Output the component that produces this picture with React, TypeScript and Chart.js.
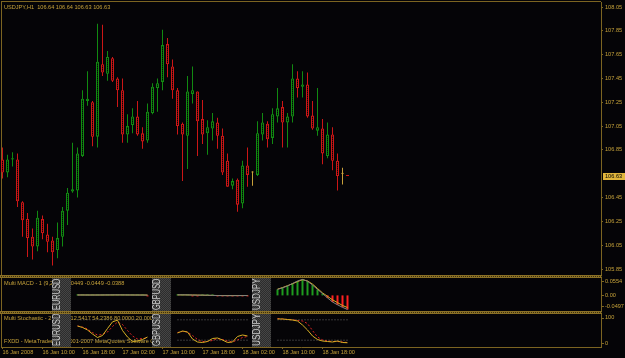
import React, { useEffect, useRef } from 'react';
import { Chart, registerables } from 'chart.js';

Chart.register(...registerables);

// ---------------- colours & fonts ----------------
const BG = '#050407';
const FRAME = '#7c6421';
const TEXT = '#c6a23a';
const GREEN = '#118a11';
const RED = '#cc1616';
const DOJI = '#c8a03a';
const HIST_UP = '#1f9b1f';
const HIST_DOWN = '#ff2020';
const SIGNAL_GOLD = '#d8b024';
const MAIN_GRAY = '#808080';
const STOCH_RED = '#e02424';
const LEVEL_GRAY = '#6a6a6a';
const FONT = '"Liberation Sans", Arial, sans-serif';
const FS = 5.6;

// ---------------- texts ----------------
const symbolTitle = 'USDJPY,H1';
const lastBarText = '106.64 106.64 106.63 106.63';
const macdTitle = 'Multi MACD - 1 (9,26,3) -0.0449 -0.0449 -0.0388';
const stochTitle = 'Multi Stochastic - 2 (5,3,3) 12.5417 54.2386 80.0000 20.0000';
const copyrightText = 'FXDD - MetaTrader 4, \u00a9 2001-2007 MetaQuotes Software Corp.';

// ---------------- price data (H1 candles) ----------------
const candleOpen = [
  106.77, 106.66, 106.77, 106.77, 106.41, 106.27, 106.12, 106.04, 106.27, 106.14,
  106.09, 106.01, 106.12, 106.34, 106.50, 106.51, 106.80, 107.26, 107.25, 106.96,
  107.57, 107.49, 107.62, 107.45, 107.35, 106.98, 107.06, 107.13, 106.99, 106.93,
  107.16, 107.37, 107.42, 107.74, 107.55, 107.35, 107.07, 106.97, 107.32, 107.34,
  107.11, 106.99, 107.03, 107.08, 106.97, 106.76, 106.55, 106.60, 106.40, 106.72,
  106.66, 106.64, 106.98, 107.07, 106.95, 107.13, 107.21, 107.08, 107.13, 107.45,
  107.38, 107.40, 107.14, 107.01, 107.03, 106.80, 106.98, 106.76, 106.65, 106.64,
];
const candleHigh = [
  106.87, 106.81, 106.83, 106.82, 106.42, 106.32, 106.19, 106.34, 106.30, 106.23,
  106.12, 106.24, 106.37, 106.53, 106.91, 106.87, 107.35, 107.51, 107.26, 107.91,
  107.90, 107.68, 107.63, 107.46, 107.45, 107.15, 107.20, 107.26, 107.04, 107.24,
  107.41, 107.45, 107.86, 107.79, 107.61, 107.37, 107.08, 107.47, 107.55, 107.34,
  107.27, 107.10, 107.16, 107.12, 107.03, 106.82, 106.61, 106.61, 106.76, 106.87,
  106.67, 107.09, 107.16, 107.09, 107.20, 107.37, 107.26, 107.16, 107.57, 107.51,
  107.51, 107.50, 107.26, 107.37, 107.11, 107.08, 107.04, 106.82, 106.70, 106.64,
];
const candleLow = [
  106.61, 106.62, 106.71, 106.37, 106.12, 105.95, 105.93, 106.00, 106.10, 105.99,
  105.88, 105.94, 106.04, 106.22, 106.49, 106.45, 106.79, 107.22, 106.88, 106.87,
  107.47, 107.43, 107.42, 107.21, 106.91, 106.91, 106.99, 106.97, 106.86, 106.91,
  107.15, 107.17, 107.35, 107.46, 107.28, 106.98, 106.59, 106.69, 107.24, 106.80,
  106.90, 106.81, 106.93, 106.86, 106.64, 106.54, 106.52, 106.33, 106.36, 106.54,
  106.55, 106.63, 106.93, 106.87, 106.90, 107.08, 106.87, 106.87, 107.08, 107.29,
  107.29, 107.12, 107.02, 106.97, 106.73, 106.78, 106.68, 106.51, 106.56, 106.63,
];
const candleClose = [
  106.66, 106.77, 106.78, 106.42, 106.26, 106.11, 106.04, 106.28, 106.15, 106.08,
  105.99, 106.11, 106.34, 106.49, 106.52, 106.82, 107.28, 107.28, 106.96, 107.59,
  107.50, 107.63, 107.43, 107.35, 106.98, 107.05, 107.13, 106.98, 106.92, 107.17,
  107.38, 107.41, 107.73, 107.57, 107.35, 107.05, 106.98, 107.34, 107.35, 107.09,
  106.98, 107.04, 107.09, 106.97, 106.66, 106.54, 106.59, 106.39, 106.72, 106.64,
  106.66, 106.99, 107.08, 106.94, 107.15, 107.20, 107.08, 107.13, 107.45, 107.37,
  107.40, 107.13, 107.03, 107.04, 106.82, 106.98, 106.76, 106.63, 106.65, 106.63,
];

// ---------------- axes ----------------
const priceTicks = [108.05, 107.85, 107.65, 107.45, 107.25, 107.05, 106.85, 106.45, 106.25, 106.05, 105.85];
const timeTickBars = [0, 8, 16, 24, 32, 40, 48, 56, 64];
const timeTickLabels = [
  '16 Jan 2008', '16 Jan 10:00', '16 Jan 18:00', '17 Jan 02:00', '17 Jan 10:00',
  '17 Jan 18:00', '18 Jan 02:00', '18 Jan 10:00', '18 Jan 18:00',
];
const macdAxisValues = [0.0554, 0, -0.0497];
const macdAxisLabels = ['0.0554', '0.00', '-0.0497'];
const stochAxisValues = [100, 0];
const stochAxisLabels = ['100', '0'];
const stochLevels = [80, 20];

// ---------------- multi-symbol indicator sections ----------------
const sectionSymbols = ['EURUSD', 'GBPUSD', 'USDJPY'];
const sectionStartBar = [15, 35, 55];

const macdHistEURUSD = [0.0004, 0.0003, 0.0002, 0.0002, 0.0003, 0.0004, 0.0005, 0.0006, 0.0005, 0.0003, 0.0002, 0.0001, 0.0001, 0.0001, -0.0003];
const macdMainEURUSD = [0.0013, 0.0013, 0.0012, 0.0012, 0.0013, 0.0014, 0.0015, 0.0016, 0.0016, 0.0015, 0.0014, 0.0013, 0.0012, 0.0011, 0.0009];
const macdSignalEURUSD = [0.0014, 0.0014, 0.0013, 0.0013, 0.0013, 0.0013, 0.0014, 0.0014, 0.0015, 0.0015, 0.0014, 0.0013, 0.0013, 0.0012, 0.0012];

const macdHistGBPUSD = [0.0003, 0.0002, 0.0001, -0.0002, -0.0004, 0.0003, 0.0004, 0.0002, -0.0003, -0.0004, -0.0005, -0.0004, -0.0003, -0.0002, -0.0001];
const macdMainGBPUSD = [0.0019, 0.0018, 0.0016, 0.0011, 0.0007, 0.0009, 0.0006, 0.0001, -0.0006, -0.0008, -0.0009, -0.0009, -0.0007, -0.0006, -0.0004];
const macdSignalGBPUSD = [0.0016, 0.0016, 0.0015, 0.0013, 0.0011, 0.0006, 0.0002, -0.0001, -0.0003, -0.0004, -0.0004, -0.0005, -0.0004, -0.0004, -0.0003];

const macdHistUSDJPY = [0.019, 0.024, 0.030, 0.038, 0.046, 0.051, 0.045, 0.033, 0.019, 0.006, -0.008, -0.021, -0.030, -0.038, -0.0449];
const macdMainUSDJPY = [0.019, 0.024, 0.030, 0.038, 0.046, 0.051, 0.045, 0.033, 0.019, 0.006, -0.008, -0.021, -0.030, -0.038, -0.0449];
const macdSignalUSDJPY = [0.020, 0.025, 0.031, 0.037, 0.044, 0.050, 0.046, 0.036, 0.022, 0.008, -0.003, -0.014, -0.023, -0.032, -0.0388];

const stochMainEURUSD = [61.8, 57.4, 50, 38.2, 27.9, 33.8, 54.4, 74, 79, 48.5, 29.4, 16.2, 17.6, 22.1, 29.4];
const stochSignalEURUSD = [61.8, 58.8, 52.9, 42.6, 35.3, 36.8, 44.1, 60.3, 73.5, 66.2, 48.5, 32.4, 23.5, 25, 26.5];
const stochMainGBPUSD = [41.2, 47.1, 44.1, 23.5, 14.7, 13.2, 16.2, 25, 26.5, 20.6, 13.2, 14.7, 30.9, 35.3, 32.4];
const stochSignalGBPUSD = [42.6, 45.6, 44.1, 33.8, 22.1, 16.2, 16.2, 19.1, 25, 22.1, 17.6, 14.7, 20.6, 27.9, 30.9];
const stochMainUSDJPY = [82.4, 82.4, 80.9, 79.4, 76.5, 64.7, 50, 32.4, 22.1, 17.6, 16.2, 14.7, 17.6, 13.2, 12.5417];
const stochSignalUSDJPY = [83.8, 82.4, 80.9, 80.1, 77.9, 76.5, 69.1, 48.5, 29.4, 20.6, 17.6, 16.2, 16.2, 14.7, 13.2];

const macdHist = [macdHistEURUSD, macdHistGBPUSD, macdHistUSDJPY];
const macdMain = [macdMainEURUSD, macdMainGBPUSD, macdMainUSDJPY];
const macdSignal = [macdSignalEURUSD, macdSignalGBPUSD, macdSignalUSDJPY];
const stochMain = [stochMainEURUSD, stochMainGBPUSD, stochMainUSDJPY];
const stochSignal = [stochSignalEURUSD, stochSignalGBPUSD, stochSignalUSDJPY];

// ---------------- scale ranges (window extents) ----------------
const X_MIN = -0.3;
const X_MAX = 119.7;
const PRICE_MAX = 108.092;
const PRICE_MIN = 105.783;
const MACD_MAX = 0.0586;
const MACD_MIN = -0.0529;
const STOCH_MAX = 102.94;
const STOCH_MIN = 0;

function makeChecker(fg: string, bg: string) {
  const c = document.createElement('canvas');
  c.width = 2;
  c.height = 2;
  const g = c.getContext('2d')!;
  g.fillStyle = bg;
  g.fillRect(0, 0, 2, 2);
  g.fillStyle = fg;
  g.fillRect(0, 0, 1, 1);
  g.fillRect(1, 1, 1, 1);
  return g.createPattern(c, 'repeat')!;
}

export default function App() {
  const ref = useRef<HTMLCanvasElement>(null);

  useEffect(() => {
    document.body.style.margin = '0';
    document.body.style.background = BG;
    const canvas = ref.current!;

    const redFill = makeChecker('#5a0c0c', BG);
    const greenFill = makeChecker('#073a07', BG);
    const dojiFill = makeChecker('#5a4616', BG);
    const boxFill = makeChecker('#454545', '#2c2c2c');
    const sepFill = makeChecker('#8a7026', '#3a2e0e');

    const kind = candleOpen.map((o, i) => (candleClose[i] > o ? 1 : candleClose[i] < o ? -1 : 0));
    const edge = kind.map((k) => (k > 0 ? GREEN : k < 0 ? RED : DOJI));
    const fill = kind.map((k) => (k > 0 ? greenFill : k < 0 ? redFill : dojiFill));

    const datasets: any[] = [
      {
        type: 'bar',
        label: 'bodies',
        data: candleOpen.map((o, i) => ({ x: i, y: [o, candleClose[i]] })),
        xAxisID: 'x',
        yAxisID: 'y',
        backgroundColor: fill,
        borderColor: edge,
        borderWidth: 1,
        borderSkipped: false,
        barThickness: 3,
        minBarLength: 1,
        inflateAmount: 0,
        grouped: false,
        order: 1,
      },
      {
        type: 'bar',
        label: 'wicks',
        data: candleLow.map((l, i) => ({ x: i, y: [l, candleHigh[i]] })),
        xAxisID: 'x',
        yAxisID: 'y',
        backgroundColor: edge,
        borderWidth: 0,
        barThickness: 1,
        inflateAmount: 0,
        grouped: false,
        order: 2,
      },
    ];

    sectionStartBar.forEach((start, s) => {
      const pts = (arr: number[]) => arr.map((v, k) => ({ x: start + k, y: v }));
      datasets.push({
        type: 'bar',
        label: sectionSymbols[s] + ' hist',
        data: pts(macdHist[s]),
        xAxisID: 'x',
        yAxisID: 'yM',
        backgroundColor: macdHist[s].map((v) => (v >= 0 ? HIST_UP : HIST_DOWN)),
        borderWidth: 0,
        barThickness: 2,
        minBarLength: 1,
        inflateAmount: 0,
        grouped: false,
        order: 3,
      });
      const line = (arr: number[], axis: string, color: string, dash: number[] = []) => ({
        type: 'line',
        data: pts(arr),
        xAxisID: 'x',
        yAxisID: axis,
        borderColor: color,
        borderWidth: 1,
        borderDash: dash,
        pointRadius: 0,
        tension: 0,
        fill: false,
        order: 0,
      });
      datasets.push(line(macdMain[s], 'yM', MAIN_GRAY));
      datasets.push(line(macdSignal[s], 'yM', SIGNAL_GOLD));
      stochLevels.forEach((lv) => {
        datasets.push({
          type: 'line',
          data: [
            { x: start, y: lv },
            { x: start + 14, y: lv },
          ],
          xAxisID: 'x',
          yAxisID: 'yS',
          borderColor: LEVEL_GRAY,
          borderWidth: 1,
          borderDash: [1, 2],
          pointRadius: 0,
          fill: false,
          order: 5,
        });
      });
      datasets.push(line(stochMain[s], 'yS', SIGNAL_GOLD));
      datasets.push(line(stochSignal[s], 'yS', STOCH_RED, [2, 2]));
    });

    const decor = {
      id: 'mtDecor',
      beforeDatasetsDraw(chart: any) {
        const { ctx, scales, chartArea } = chart;
        const x = scales.x, y = scales.y, yM = scales.yM, yS = scales.yS;
        ctx.save();
        ctx.fillStyle = FRAME;
        ctx.fillRect(1, 1, chartArea.right - 1, 1);
        ctx.fillRect(1, 1, 1, chartArea.bottom - 1);

        ctx.font = `${FS}px ${FONT}`;
        ctx.fillStyle = TEXT;
        ctx.textBaseline = 'middle';
        ctx.textAlign = 'left';
        const mTop = yM.getPixelForValue(macdAxisValues[0]);
        const mBot = yM.getPixelForValue(macdAxisValues[2]);
        const sTop = yS.getPixelForValue(100);
        const sBot = yS.getPixelForValue(0);
        ctx.fillText(`${symbolTitle}  ${lastBarText}`, 4, y.top + 5);
        ctx.fillText(macdTitle, 4, mTop + 5);
        ctx.fillText(stochTitle, 4, sTop + 5.5);
        ctx.fillText(copyrightText, 4, sBot - 6);

        sectionStartBar.forEach((start, s) => {
          const left = Math.round(x.getPixelForValue(start - 5.1));
          const right = Math.round(x.getPixelForValue(start - 1.3));
          [[mTop, mBot], [sTop, sBot]].forEach(([t, b]) => {
            const top = Math.round(t);
            const bot = Math.round(b);
            ctx.fillStyle = boxFill;
            ctx.fillRect(left, top, right - left, bot - top);
            ctx.save();
            ctx.translate(left + 7.7, bot - 1);
            ctx.rotate(-Math.PI / 2);
            ctx.font = `10px ${FONT}`;
            const w = ctx.measureText(sectionSymbols[s]).width;
            ctx.scale((bot - top - 1.5) / w, 1);
            ctx.fillStyle = '#c8c8c8';
            ctx.textBaseline = 'alphabetic';
            ctx.textAlign = 'left';
            ctx.fillText(sectionSymbols[s], 0, 0);
            ctx.restore();
          });
        });
        ctx.restore();
      },
      afterDraw(chart: any) {
        const { ctx, scales, chartArea } = chart;
        const y = scales.y, yM = scales.yM, yS = scales.yS;
        ctx.save();
        // pane separators
        [Math.round(yM.top) - 2, Math.round(yS.top) - 1].forEach((t) => {
          ctx.fillStyle = sepFill;
          ctx.fillRect(0, t, chartArea.right + 1, 3);
          ctx.fillStyle = '#8a7026';
          ctx.fillRect(0, t, chartArea.right + 1, 1);
          ctx.fillRect(0, t + 2, chartArea.right + 1, 1);
        });
        // indicator axis labels
        ctx.font = `${FS}px ${FONT}`;
        ctx.textBaseline = 'middle';
        ctx.textAlign = 'left';
        const axX = chartArea.right;
        const drawLabels = (scale: any, vals: number[], labs: string[], topPad: number, botPad: number) => {
          const t = scale.getPixelForValue(vals[0]);
          const b = scale.getPixelForValue(vals[vals.length - 1]);
          vals.forEach((v, i) => {
            let py = scale.getPixelForValue(v);
            py = Math.min(Math.max(py, t + topPad), b - botPad);
            ctx.fillStyle = FRAME;
            ctx.fillRect(axX + 1, Math.round(py), 2, 1);
            ctx.fillStyle = TEXT;
            ctx.fillText(labs[i], axX + 4, py);
          });
        };
        drawLabels(yM, macdAxisValues, macdAxisLabels, 3.3, 4.7);
        drawLabels(yS, stochAxisValues, stochAxisLabels, 4.7, 4);
        // current price marker
        const last = candleClose[candleClose.length - 1];
        const py = y.getPixelForValue(last);
        ctx.fillStyle = '#e2b63c';
        ctx.fillRect(axX + 2, Math.round(py) - 3, 23, 7);
        ctx.fillStyle = '#000000';
        ctx.fillText(last.toFixed(2), axX + 4, Math.round(py) + 0.5);
        ctx.restore();
      },
    };

    const yCommon = (weight: number, stackWeight: number, min: number, max: number) => ({
      type: 'linear',
      position: 'right',
      stack: 'panes',
      stackWeight,
      weight,
      min,
      max,
      bounds: 'data',
      beginAtZero: false,
      border: { display: true, color: FRAME, width: 1 },
      afterFit: (s: any) => {
        s.width = 24;
        s.paddingTop = 0;
        s.paddingBottom = 0;
      },
    });

    const chart = new Chart(canvas, {
      type: 'bar',
      data: { datasets },
      options: {
        responsive: false,
        animation: false,
        events: [],
        layout: { padding: { left: 1, top: 2, right: 0, bottom: 0 } },
        plugins: { legend: { display: false }, tooltip: { enabled: false } },
        scales: {
          x: {
            type: 'linear',
            min: X_MIN,
            max: X_MAX,
            offset: false,
            bounds: 'data',
            grid: { display: true, offset: false, drawOnChartArea: false, drawTicks: true, tickLength: 2, color: FRAME },
            border: { display: true, color: FRAME, width: 1 },
            ticks: {
              autoSkip: false,
              maxRotation: 0,
              minRotation: 0,
              align: 'start',
              padding: 0,
              color: TEXT,
              font: { family: FONT, size: FS },
              callback: (_v: any, i: number) => timeTickLabels[i] ?? '',
            },
            afterBuildTicks: (s: any) => {
              s.ticks = timeTickBars.map((v) => ({ value: v }));
            },
            afterFit: (s: any) => {
              s.height = 11;
              s.paddingLeft = 0;
              s.paddingRight = 0;
            },
          },
          y: {
            ...yCommon(1, 275, PRICE_MIN, PRICE_MAX),
            grid: { display: true, drawOnChartArea: false, drawTicks: true, tickLength: 2, color: FRAME },
            ticks: {
              autoSkip: false,
              padding: 2,
              color: TEXT,
              font: { family: FONT, size: FS },
              callback: (v: any) => Number(v).toFixed(2),
            },
            afterBuildTicks: (s: any) => {
              s.ticks = priceTicks.map((v) => ({ value: v }));
            },
          },
          yM: {
            ...yCommon(2, 35, MACD_MIN, MACD_MAX),
            grid: { display: false },
            ticks: { display: false },
          },
          yS: {
            ...yCommon(3, 35, STOCH_MIN, STOCH_MAX),
            grid: { display: false },
            ticks: { display: false },
          },
        },
      } as any,
      plugins: [decor],
    } as any);

    return () => chart.destroy();
  }, []);

  return (
    <div style={{ position: 'fixed', left: 0, top: 0, width: 625, height: 358, background: BG }}>
      <canvas ref={ref} width={625} height={358} style={{ display: 'block', width: 625, height: 358 }} />
    </div>
  );
}
